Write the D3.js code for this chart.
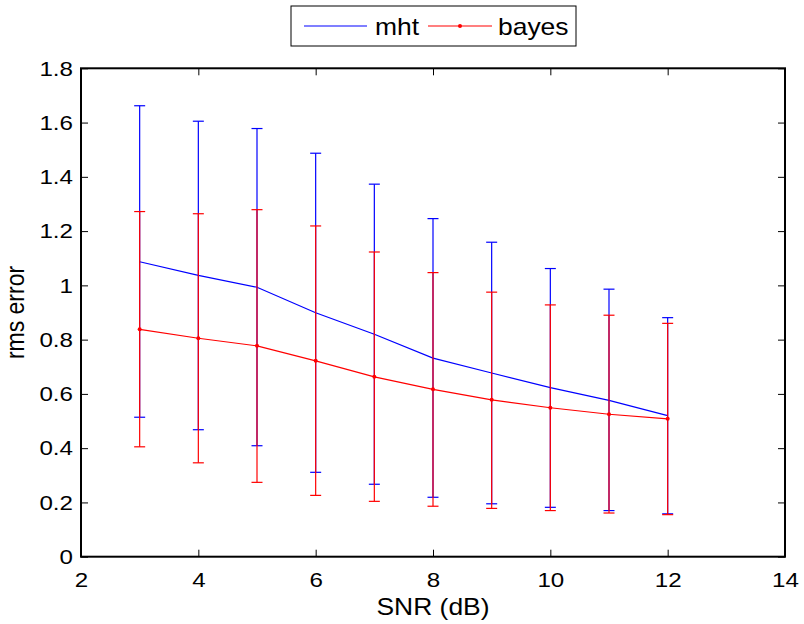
<!DOCTYPE html>
<html>
<head>
<meta charset="utf-8">
<script src="https://cdn.jsdelivr.net/npm/d3@7"></script>
<style>
  body { margin: 0; background: #fff; }
  text { font-family: "Liberation Sans", Arial, Helvetica, sans-serif; fill: #000; }
</style>
</head>
<body>
<div id="chart"></div>
<script>
// SNR values (dB)
const snr = [3, 4, 5, 6, 7, 8, 9, 10, 11, 12]

// mht: mean and error bar ends
const mhtMean = [1.087, 1.037, 0.993, 0.899, 0.820, 0.732, 0.677, 0.623, 0.576, 0.520]
const mhtLow  = [0.514, 0.468, 0.409, 0.311, 0.267, 0.219, 0.195, 0.182, 0.170, 0.158]
const mhtHigh = [1.662, 1.605, 1.578, 1.487, 1.373, 1.246, 1.159, 1.062, 0.986, 0.881]

// bayes: mean and error bar ends
const bayesMean = [0.838, 0.805, 0.777, 0.722, 0.663, 0.617, 0.578, 0.549, 0.525, 0.508]
const bayesLow  = [0.405, 0.346, 0.274, 0.226, 0.204, 0.186, 0.178, 0.170, 0.161, 0.155]
const bayesHigh = [1.272, 1.264, 1.279, 1.219, 1.123, 1.047, 0.975, 0.928, 0.890, 0.860]

const xTicks = [2, 4, 6, 8, 10, 12, 14]
const yTicks = [0, 0.2, 0.4, 0.6, 0.8, 1, 1.2, 1.4, 1.6, 1.8]
const yTickLabels = ["0", "0.2", "0.4", "0.6", "0.8", "1", "1.2", "1.4", "1.6", "1.8"]

const width = 804, height = 624
const margin = { top: 68.3, right: 19, bottom: 67.3, left: 81 }
const w = width - margin.left - margin.right
const h = height - margin.top - margin.bottom
const stretch = 1.15   // glyphs in the picture are a bit wider than normal

var svg = d3.select("#chart")
    .append("svg")
        .attr("width", width)
        .attr("height", height)

var g = svg.append("g")
    .attr("transform", `translate(${margin.left}, ${margin.top})`)

const x = d3.scaleLinear().domain([2, 14]).range([0, w])
const y = d3.scaleLinear().domain([0, 1.8]).range([h, 0])

// axes, ticks pointing inward on all four sides
function styleAxis(sel) {
    sel.select(".domain").remove()
    sel.selectAll(".tick line").attr("stroke", "#000").attr("stroke-width", 1)
}

var xb = g.append("g")
    .attr("transform", `translate(0, ${h})`)
    .call(d3.axisBottom(x).tickValues(xTicks).tickFormat(d3.format("d"))
        .tickSizeInner(-7).tickSizeOuter(0).tickPadding(15))
styleAxis(xb)
xb.selectAll(".tick text")
    .attr("font-size", 21)
    .each(function () {
        const t = d3.select(this)
        const yy = +t.attr("y")
        t.attr("y", null).attr("transform", `translate(0, ${yy}) scale(${stretch}, 1)`)
    })

var xt = g.append("g")
    .call(d3.axisTop(x).tickValues(xTicks).tickFormat("").tickSizeInner(-7).tickSizeOuter(0))
styleAxis(xt)

var yl = g.append("g")
    .call(d3.axisLeft(y).tickValues(yTicks).tickFormat((d, i) => yTickLabels[i])
        .tickSizeInner(-7).tickSizeOuter(0).tickPadding(8))
styleAxis(yl)
yl.selectAll(".tick text")
    .attr("font-size", 21)
    .each(function () {
        const t = d3.select(this)
        const xx = +t.attr("x")
        t.attr("x", null).attr("transform", `translate(${xx}, 0) scale(${stretch}, 1)`)
    })

var yr = g.append("g")
    .attr("transform", `translate(${w}, 0)`)
    .call(d3.axisRight(y).tickValues(yTicks).tickFormat("").tickSizeInner(-7).tickSizeOuter(0))
styleAxis(yr)

// box
g.append("rect")
    .attr("x", 0).attr("y", 0)
    .attr("width", w).attr("height", h)
    .attr("fill", "none")
    .attr("stroke", "#000")
    .attr("stroke-width", 2)

// error bars + lines
const capHalf = 5.5

function drawSeries(mean, low, high, color, markers) {
    var s = g.append("g")
    var bars = s.selectAll(".bar")
        .data(snr.map((d, i) => ({ x: d, lo: low[i], hi: high[i] })))
        .enter().append("g")
    bars.append("line")
        .attr("x1", d => x(d.x)).attr("x2", d => x(d.x))
        .attr("y1", d => y(d.lo)).attr("y2", d => y(d.hi))
        .attr("stroke", color).attr("stroke-width", 1.2)
    bars.append("line")
        .attr("x1", d => x(d.x) - capHalf).attr("x2", d => x(d.x) + capHalf)
        .attr("y1", d => y(d.lo)).attr("y2", d => y(d.lo))
        .attr("stroke", color).attr("stroke-width", 1.2)
    bars.append("line")
        .attr("x1", d => x(d.x) - capHalf).attr("x2", d => x(d.x) + capHalf)
        .attr("y1", d => y(d.hi)).attr("y2", d => y(d.hi))
        .attr("stroke", color).attr("stroke-width", 1.2)

    const line = d3.line().x((d, i) => x(snr[i])).y(d => y(d))
    s.append("path")
        .datum(mean)
        .attr("fill", "none")
        .attr("stroke", color)
        .attr("stroke-width", 1.2)
        .attr("d", line)

    if (markers) {
        s.selectAll("circle")
            .data(mean)
            .enter().append("circle")
            .attr("cx", (d, i) => x(snr[i]))
            .attr("cy", d => y(d))
            .attr("r", 2)
            .attr("fill", color)
    }
}

drawSeries(mhtMean, mhtLow, mhtHigh, "#0000ff", false)
drawSeries(bayesMean, bayesLow, bayesHigh, "#ff0000", true)

// axis labels
svg.append("text")
    .attr("text-anchor", "middle")
    .attr("font-size", 23)
    .attr("transform", `translate(${margin.left + w / 2}, 615) scale(${stretch}, 1)`)
    .text("SNR (dB)")

svg.append("text")
    .attr("text-anchor", "middle")
    .attr("font-size", 23)
    .attr("transform", `translate(24, ${margin.top + h / 2}) scale(${stretch}, 1) rotate(-90)`)
    .text("rms error")

// legend
var legend = svg.append("g")
legend.append("rect")
    .attr("x", 291).attr("y", 6)
    .attr("width", 285).attr("height", 40)
    .attr("fill", "#fff")
    .attr("stroke", "#000")
    .attr("stroke-width", 1)

legend.append("line")
    .attr("x1", 304).attr("x2", 367).attr("y1", 26).attr("y2", 26)
    .attr("stroke", "#0000ff").attr("stroke-width", 1.2)
legend.append("text")
    .attr("font-size", 23)
    .attr("transform", `translate(375, 35) scale(${stretch}, 1)`)
    .text("mht")

legend.append("line")
    .attr("x1", 428).attr("x2", 492).attr("y1", 26).attr("y2", 26)
    .attr("stroke", "#ff0000").attr("stroke-width", 1.2)
legend.append("circle")
    .attr("cx", 460).attr("cy", 26).attr("r", 2)
    .attr("fill", "#ff0000")
legend.append("text")
    .attr("font-size", 23)
    .attr("transform", `translate(498, 35) scale(${stretch}, 1)`)
    .text("bayes")
</script>
</body>
</html>
